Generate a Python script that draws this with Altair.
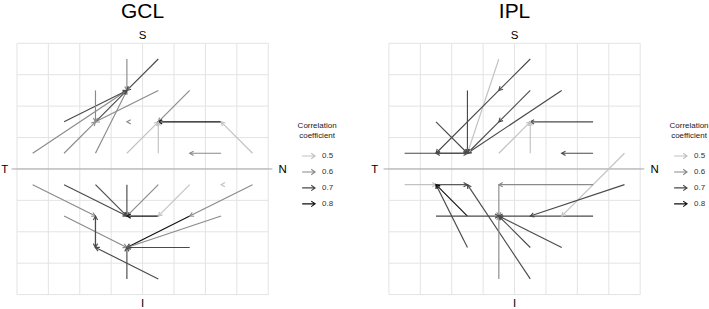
import math
import altair as alt
import pandas as pd

# ---------------- data ----------------
levels = ["0.5", "0.6", "0.7", "0.8"]
level_colors = ["#C2C2C2", "#8A8A8A", "#4A4A4A", "#0F0F0F"]
grid_ticks = [-4, -3, -2, -1, 0, 1, 2, 3, 4]

# GCL arrows: start (x0, y0) -> end (x1, y1), correlation level
gcl_x0 = [-0.5, 0.5, -3.5, -2.5, -1.5, -2.5, 0.5, -1.5, -1.5, -0.5, -0.5, 1.5, 2.5, 3.5, 0.5, 2.5,
          -3.5, -2.5, -1.5, -0.5, 0.5, 1.5, 0.5, 2.5, 3.5, 1.5, 2.5, 1.5, -2.5, -1.5, -1.5, 0.5, -0.5]
gcl_y0 = [3.5, 3.5, 0.5, 0.5, 0.5, 1.5, 2.5, 1.5, 2.5, 1.5, 0.5, 2.5, 1.5, 0.5, 0.5, 0.5,
          -0.5, -0.5, -0.5, -0.5, -0.5, -0.5, -1.5, -0.5, -0.5, -1.5, -1.5, -2.5, -1.5, -1.5, -2.5, -3.5, -3.5]
gcl_x1 = [-0.5, -0.5, -0.5, -1.5, -0.5, -0.5, -1.5, -0.5, -1.5, -0.5, 0.5, 0.5, 0.5, 2.5, 0.5, 1.5,
          -1.5, -0.5, -0.5, -0.5, -0.5, 0.5, -0.5, 2.5, 1.5, -0.5, -0.5, -0.5, -0.5, -1.5, -1.5, -1.5, -0.5]
gcl_y1 = [2.5, 2.5, 2.5, 1.5, 2.5, 2.5, 1.5, 2.5, 1.5, 1.5, 1.5, 1.5, 1.5, 1.5, 1.5, 0.5,
          -1.5, -1.5, -1.5, -1.5, -1.5, -1.5, -1.5, -0.5, -1.5, -2.5, -2.5, -2.5, -2.5, -2.5, -1.5, -2.5, -2.5]
gcl_r = ["0.6", "0.7", "0.6", "0.6", "0.6", "0.7", "0.6", "0.7", "0.6", "0.6", "0.5", "0.6", "0.8", "0.5", "0.5", "0.6",
         "0.6", "0.7", "0.7", "0.7", "0.6", "0.5", "0.8", "0.5", "0.6", "0.8", "0.6", "0.7", "0.6", "0.7", "0.7", "0.7", "0.7"]

# IPL arrows
ipl_x0 = [-0.5, 0.5, -0.5, -1.5, -2.5, 0.5, -0.5, 1.5, 2.5, -0.5, 0.5, -3.5, -1.5, 2.5, 3.5,
          -3.5, -2.5, -1.5, -1.5, 0.5, 2.5, -0.5, -0.5, -2.5, 2.5, 3.5, 0.5, 1.5]
ipl_y0 = [3.5, 3.5, 2.5, 2.5, 1.5, 2.5, 1.5, 2.5, 1.5, 0.5, 0.5, 0.5, 0.5, 0.5, 0.5,
          -0.5, -0.5, -2.5, -1.5, -3.5, -0.5, -0.5, -3.5, -1.5, -1.5, -0.5, -2.5, -2.5]
ipl_x1 = [-1.5, -0.5, -2.5, -1.5, -1.5, -0.5, -1.5, -1.5, 0.5, 0.5, 0.5, -1.5, -2.5, 1.5, 1.5,
          -2.5, -1.5, -2.5, -2.5, -1.5, -0.5, -0.5, -0.5, -0.5, -0.5, 0.5, -0.5, -0.5]
ipl_y1 = [0.5, 2.5, 0.5, 0.5, 0.5, 1.5, 0.5, 0.5, 1.5, 1.5, 1.5, 0.5, 0.5, 0.5, -1.5,
          -0.5, -0.5, -0.5, -0.5, -0.5, -0.5, -1.5, -1.5, -1.5, -1.5, -1.5, -1.5, -1.5]
ipl_r = ["0.5", "0.7", "0.7", "0.7", "0.7", "0.7", "0.7", "0.7", "0.7", "0.5", "0.5", "0.7", "0.7", "0.7", "0.5",
         "0.5", "0.7", "0.7", "0.8", "0.7", "0.6", "0.6", "0.6", "0.7", "0.7", "0.7", "0.7", "0.7"]

axis_letters = ["S", "I", "T", "N"]

# ---------------- styling / layout ----------------
FONT = "Liberation Sans"
GRID = "#E3E3E3"
UNIT = 31.5
X_LEFT = -4 - 17 / UNIT
Y_TOP = 4 + 43 / UNIT
Y_BOTTOM = -4 - 14 / UNIT
HEIGHT = 309
HEAD = "M-1,-0.55L0,0L-1,0.55"
LEG_SYMBOL = "M-1,0L1,0M0.4,-0.42L1,0L0.4,0.42"


def arrow_frame(x0, y0, x1, y1, r):
    df = pd.DataFrame({"x0": x0, "y0": y0, "x1": x1, "y1": y1, "r": r})
    ang = []
    for a, b, c, d in zip(x0, y0, x1, y1):
        if a == c and b == d:
            ang.append(180.0)
        else:
            ang.append(math.degrees(math.atan2(-(d - b), c - a)) % 360)
    df["angle"] = ang
    return df


def panel(name, df, width, t_x):
    x_right = X_LEFT + width / UNIT
    xs = alt.Scale(domain=[X_LEFT, x_right], nice=False, zero=False)
    ys = alt.Scale(domain=[Y_BOTTOM, Y_TOP], nice=False, zero=False)

    def X(f):
        return alt.X(f, type="quantitative", scale=xs, axis=None)

    def Y(f):
        return alt.Y(f, type="quantitative", scale=ys, axis=None)

    legend = alt.Legend(
        title=["Correlation", "coefficient"], orient="none", legendX=298, legendY=122,
        symbolType=LEG_SYMBOL, symbolSize=169, symbolStrokeWidth=1.1,
        symbolFillColor="transparent",
        titleFont=FONT, titleFontSize=8, titleFontWeight="normal", titleColor="#222222",
        titleAnchor="middle", titleAlign="center", titleLineHeight=9.5, titlePadding=9,
        labelFont=FONT, labelFontSize=8, labelColor="#333333", labelOffset=6, rowPadding=3,
    )
    stroke = alt.Stroke("r:N", scale=alt.Scale(domain=levels, range=level_colors), legend=legend)

    gdf_v = pd.DataFrame({"x": grid_ticks, "a": [-4] * 9, "b": [4] * 9})
    gdf_h = pd.DataFrame({"y": grid_ticks, "a": [-4] * 9, "b": [4] * 9})
    vgrid = alt.Chart(gdf_v).mark_rule(color=GRID, strokeWidth=1).encode(x=X("x"), y=Y("a"), y2="b")
    hgrid = alt.Chart(gdf_h).mark_rule(color=GRID, strokeWidth=1).encode(y=Y("y"), x=X("a"), x2="b")
    tn = alt.Chart(pd.DataFrame({"a": [-4.17], "b": [4.13], "y": [0]})).mark_rule(
        color="#A6A6A6", strokeWidth=1).encode(x=X("a"), x2="b", y=Y("y"))

    lines = alt.Chart(df).mark_rule(strokeWidth=1.15).encode(
        x=X("x0"), y=Y("y0"), x2="x1", y2="y1", stroke=stroke)
    heads = alt.Chart(df).mark_point(shape=HEAD, filled=False, size=60, strokeWidth=1.15, opacity=1).encode(
        x=X("x1"), y=Y("y1"), stroke=stroke, angle=alt.Angle("angle:Q", scale=None))

    title = alt.Chart(pd.DataFrame({"x": [0], "y": [4.816], "t": [name]})).mark_text(
        font=FONT, fontSize=21, baseline="alphabetic", align="center", color="black").encode(
        x=X("x"), y=Y("y"), text="t:N")
    letters = alt.Chart(pd.DataFrame({
        "x": [0, 0, t_x, 4.46], "y": [4.127, -4.40, -0.13, -0.13], "t": axis_letters})).mark_text(
        font=FONT, fontSize=11.5, baseline="alphabetic", align="center", color="black").encode(
        x=X("x"), y=Y("y"), text="t:N")

    return alt.layer(vgrid, hgrid, tn, lines, heads, title, letters).properties(width=width, height=HEIGHT)


gcl = panel("GCL", arrow_frame(gcl_x0, gcl_y0, gcl_x1, gcl_y1, gcl_r), 372, -4.39)
ipl = panel("IPL", arrow_frame(ipl_x0, ipl_y0, ipl_x1, ipl_y1, ipl_r), 337, -4.45)

chart = (
    alt.hconcat(gcl, ipl, spacing=0)
    .resolve_scale(stroke="independent")
    .resolve_legend(stroke="independent")
    .properties(padding=0, background="white")
    .configure_view(stroke=None)
)

chart.save("out.html", embed_options={"renderer": "svg", "actions": False})
